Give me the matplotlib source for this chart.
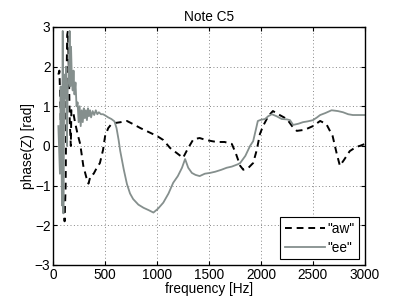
import numpy as np
import matplotlib
matplotlib.use('Agg')
import matplotlib.pyplot as plt

plt.rcParams['font.family'] = ['Liberation Sans', 'DejaVu Sans']
plt.rcParams['font.size'] = 9.8

# "aw" vowel, phase of impedance
aw_freq = [50, 60, 70, 80, 95, 110, 120, 128, 135, 142, 150, 160, 170, 175, 190, 210,
           235, 260, 290, 320, 340, 360, 390, 420, 450, 480, 500, 530, 560, 600, 650, 710,
           770, 840, 920, 1000, 1060, 1125, 1200, 1250, 1300, 1350, 1410, 1470, 1530, 1575,
           1650, 1720, 1760, 1800, 1830, 1880, 1925, 1960, 1990, 2020, 2070, 2115, 2180,
           2250, 2300, 2345, 2400, 2440, 2500, 2570, 2630, 2690, 2730, 2760, 2800, 2855,
           2920, 2950, 3000]
aw_phase = [1.8, 1.9, 1.0, -0.5, -1.2, -1.9, -1.0, 1.5, 2.8, 2.9, 2.0, 0.6, 0.0, 0.9, 0.9, 0.6,
            0.3, 0.05, -0.5, -0.8, -0.95, -0.75, -0.7, -0.55, -0.43, -0.1, 0.25, 0.45, 0.55, 0.58, 0.6, 0.63,
            0.55, 0.45, 0.35, 0.25, 0.15, -0.05, -0.2, -0.3, -0.05, 0.17, 0.2, 0.15, 0.12, 0.1,
            0.1, 0.05, -0.2, -0.5, -0.6, -0.55, -0.43, -0.1, 0.3, 0.5, 0.75, 0.88, 0.78,
            0.68, 0.5, 0.38, 0.4, 0.43, 0.5, 0.63, 0.55, 0.25, -0.2, -0.5, -0.35, -0.13,
            -0.02, 0.0, 0.05]

# "ee" vowel
ee_freq = [50, 60, 65, 72, 78, 85, 92, 98, 104, 110, 118, 125, 132, 140, 150, 158, 165, 172,
           180, 188, 196, 205, 215, 225, 235, 245, 255, 265, 275, 285, 295, 305, 315, 325,
           335, 345, 355, 365, 380, 395, 410, 425, 440, 460, 480, 500, 530, 560, 590, 610,
           630, 645, 680, 710, 740, 770, 820, 870, 920, 965, 1010, 1060, 1110, 1155, 1200,
           1240, 1270, 1300, 1335, 1370, 1410, 1460, 1510, 1560, 1620, 1670, 1720, 1780,
           1800, 1850, 1895, 1925, 1950, 1970, 2000, 2040, 2070, 2105, 2150, 2200, 2250,
           2280, 2310, 2360, 2405, 2450, 2500, 2540, 2570, 2620, 2680, 2740, 2790, 2840,
           2885, 2950, 3000]
ee_phase = [0.5, -0.3, -0.7, 1.5, 0.2, -1.5, 2.9, -1.7, 0.5, 1.8, 1.2, 2.0, 0.0, 1.5, 1.7, 2.9, 1.5, 2.5,
            1.7, 1.4, 1.9, 1.3, 1.6, 1.0, 1.1, 0.6, 1.0, 0.5, 0.9, 0.6, 0.95, 0.7, 0.9, 0.65,
            0.95, 0.75, 0.9, 0.72, 0.88, 0.78, 0.9, 0.8, 0.85, 0.8, 0.8, 0.77, 0.72, 0.68, 0.62, 0.45,
            0.15, -0.12, -0.6, -0.96, -1.2, -1.34, -1.48, -1.56, -1.62, -1.68, -1.58, -1.43, -1.2, -0.93, -0.76,
            -0.55, -0.33, -0.55, -0.68, -0.73, -0.76, -0.7, -0.68, -0.65, -0.6, -0.55, -0.52, -0.46,
            -0.43, -0.25, 0.0, 0.12, 0.4, 0.63, 0.66, 0.68, 0.75, 0.8, 0.75, 0.68, 0.67,
            0.65, 0.53, 0.56, 0.6, 0.62, 0.65, 0.72, 0.78, 0.83, 0.9, 0.88, 0.85, 0.8,
            0.78, 0.78, 0.78]

fig = plt.figure(figsize=(4.09, 3.0), dpi=100)
ax = fig.add_axes([0.130, 0.117, 0.762, 0.793])

ax.plot(aw_freq, aw_phase, color='black', linestyle=(0, (3.5, 2.5)), linewidth=1.4, label='"aw"')
ax.plot(ee_freq, ee_phase, color='#858f8d', linestyle='-', linewidth=1.3, label='"ee"')

ax.set_xlim(0, 3000)
ax.set_ylim(-3, 3)
ax.set_xticks([0, 500, 1000, 1500, 2000, 2500, 3000])
ax.set_yticks([-3, -2, -1, 0, 1, 2, 3])
ax.grid(True, linestyle=(0, (1, 2.5)), color='#888888', linewidth=0.7)
ax.tick_params(direction='in', top=True, right=True, length=3, width=0.8, pad=2)
for s in ax.spines.values():
    s.set_linewidth(1.0)

ax.set_xlabel('frequency [Hz]', labelpad=0)
ax.set_ylabel('phase(Z) [rad]', labelpad=0)
ax.set_title('Note C5', fontsize=9.8, pad=4)

leg = ax.legend(loc='lower right', fancybox=False, framealpha=1, edgecolor='black',
                handlelength=3.0, borderpad=0.35, labelspacing=0.35, handletextpad=0.15,
                borderaxespad=0.4)
leg.get_frame().set_linewidth(0.8)

fig.savefig('out.png', dpi=100)
